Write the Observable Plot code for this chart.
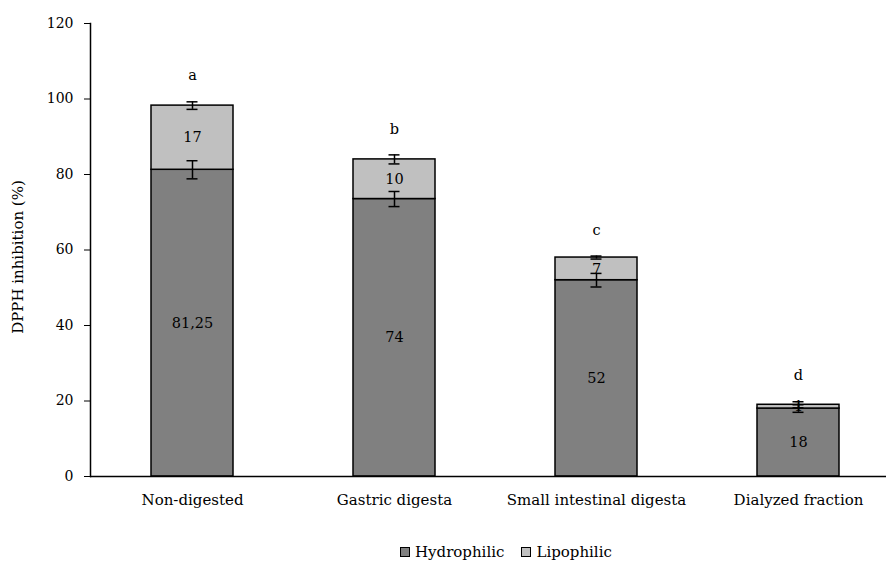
<!DOCTYPE html>
<html><head><meta charset="utf-8">
<script src="https://cdn.jsdelivr.net/npm/d3@7"></script>
<script src="https://cdn.jsdelivr.net/npm/@observablehq/plot@0.6"></script>
<style>
body{margin:0;background:#fff;font-family:"DejaVu Serif",serif;color:#000;}
#wrap{position:relative;width:886px;height:563px;overflow:hidden;}
#legend{position:absolute;left:400px;top:543px;height:18px;line-height:18px;font-size:15px;display:flex;align-items:center;white-space:nowrap;}
#legend .sw{display:inline-block;width:8px;height:8px;border:1px solid #000;margin-right:5px;}
#legend .item{display:flex;align-items:center;margin-right:17px;}
</style></head><body><div id="wrap"><div id="chart"></div><div id="legend"></div></div>
<script>
const categories = ["Non-digested","Gastric digesta","Small intestinal digesta","Dialyzed fraction"];
const hydrophilic = [81.25, 73.5, 52, 18];
const lipophilic = [17, 10.5, 6, 1];
const hydrophilicErr = [2.4, 2.0, 1.8, 1.0];
const lipophilicErr = [1.0, 1.2, 0.4, 0.8];
const hydrophilicLabels = ["81,25","74","52","18"];
const lipophilicLabels = ["17","10","7","1"];
const letters = ["a","b","c","d"];
const seriesNames = ["Hydrophilic","Lipophilic"];
const seriesColors = ["#808080","#c0c0c0"];
const yTicks = [0,20,40,60,80,100,120];
const yTitle = "DPPH inhibition (%)";

const rows = categories.flatMap((c,i)=>[
  {cat:c, series:seriesNames[0], y1:0, y2:hydrophilic[i], err:hydrophilicErr[i], label:hydrophilicLabels[i]},
  {cat:c, series:seriesNames[1], y1:hydrophilic[i], y2:hydrophilic[i]+lipophilic[i], err:lipophilicErr[i], label:lipophilicLabels[i]}
]);
const tops = categories.map((c,i)=>({cat:c, top:hydrophilic[i]+lipophilic[i]+lipophilicErr[i], letter:letters[i]}));

const chart = Plot.plot({
  width:886, height:528, marginTop:23, marginBottom:52, marginLeft:90, marginRight:0,
  style:{fontFamily:"DejaVu Serif", fontSize:"14px", color:"#000", background:"#fff"},
  x:{domain:categories, range:[91,899], padding:0, label:null},
  y:{domain:[0,120], label:null},
  color:{domain:seriesNames, range:seriesColors},
  marks:[
    Plot.barY(rows,{x:"cat", y1:"y1", y2:"y2", fill:"series", stroke:"#000", strokeWidth:1.5, insetLeft:60, insetRight:60}),
    Plot.ruleX(rows,{x:"cat", y1:d=>d.y2-d.err, y2:d=>d.y2+d.err, stroke:"#000", strokeWidth:1.5}),
    Plot.tickY(rows,{x:"cat", y:d=>d.y2-d.err, insetLeft:95.5, insetRight:95.5, stroke:"#000", strokeWidth:1.5}),
    Plot.tickY(rows,{x:"cat", y:d=>d.y2+d.err, insetLeft:95.5, insetRight:95.5, stroke:"#000", strokeWidth:1.5}),
    Plot.text(rows,{x:"cat", y:d=>(d.y1+d.y2)/2, text:"label", fontSize:14.5, fill:"#000"}),
    Plot.text(tops,{x:"cat", y:"top", text:"letter", dy:-26, fontSize:14.5, fill:"#000"}),
    Plot.axisY({ticks:yTicks, tickSize:6, tickPadding:11, label:null, fontSize:14}),
    Plot.axisX({tickSize:0, tickPadding:18, label:null, fontSize:15}),
    Plot.text([yTitle],{frameAnchor:"left", textAnchor:"middle", rotate:-90, dx:-72, dy:7, fontSize:15, fill:"#000"}),
    Plot.ruleY([0],{stroke:"#000", strokeWidth:1.5}),
    Plot.frame({anchor:"left", stroke:"#000", strokeWidth:1.5})
  ]
});
document.getElementById("chart").appendChild(chart);

const legend = document.getElementById("legend");
seriesNames.forEach((s,i)=>{
  const item = document.createElement("span");
  item.className = "item";
  const sw = document.createElement("span");
  sw.className = "sw";
  sw.style.background = seriesColors[i];
  item.appendChild(sw);
  item.appendChild(document.createTextNode(s));
  legend.appendChild(item);
});
</script></body></html>
